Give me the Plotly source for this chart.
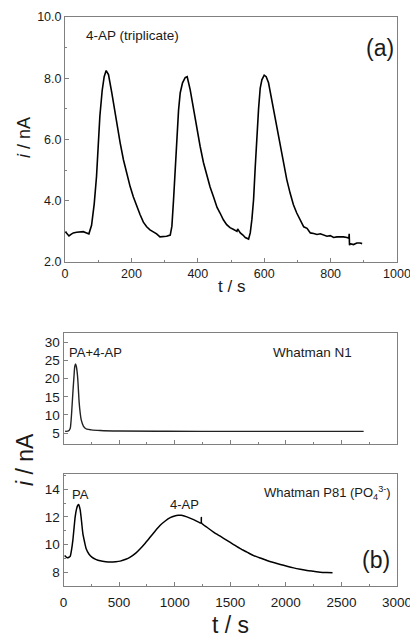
import plotly.graph_objects as go

# Panel (a): 4-AP triplicate
t_a = [0, 5, 12, 18, 25, 35, 45, 55, 65, 72, 80, 88, 95, 105, 112, 118, 124, 131, 141, 148, 156, 166, 176, 186, 196,
       206, 216, 226, 236, 246, 256, 266, 276, 286, 296, 306, 317, 322, 327, 332, 337, 342, 347, 354, 362, 368, 377,
       387, 397, 407, 417, 427, 437, 447, 455, 458, 467, 477, 487, 497, 508, 518, 520, 528, 536, 543, 553, 558, 563,
       568, 573, 578, 583, 588, 593, 600, 606, 613, 620, 628, 638, 648, 658, 668, 678, 688, 698, 709, 719, 729, 739,
       749, 759, 769, 779, 789, 799, 809, 819, 829, 839, 849, 855, 856, 857, 859, 869, 879, 889, 895]
i_a = [3.0, 2.95, 2.85, 2.9, 2.95, 2.97, 2.98, 2.99, 2.95, 2.92, 3.2, 3.9, 4.8, 6.76, 7.6, 8.05, 8.25, 8.12, 7.52, 7.05,
       6.43, 5.9, 5.34, 4.88, 4.47, 4.12, 3.82, 3.55, 3.3, 3.15, 3.05, 2.98, 2.92, 2.82, 2.83, 2.84, 2.88, 3.17, 4.04,
       5.1, 6.2, 6.95, 7.52, 7.85, 8.02, 8.05, 7.63, 6.97, 6.35, 5.78, 5.25, 4.8, 4.45, 4.14, 3.88, 3.78, 3.6, 3.38,
       3.22, 3.12, 3.06, 3.0, 3.08, 2.95, 2.88, 2.8, 2.75, 2.95, 3.4, 4.04, 5.1, 6.2, 7.0, 7.68, 7.95, 8.1, 8.05, 7.85,
       7.45, 6.97, 6.35, 5.78, 5.2, 4.69, 4.25, 3.87, 3.6, 3.38, 3.15, 3.1, 2.95, 2.93, 2.9, 2.92, 2.87, 2.84, 2.86,
       2.8, 2.82, 2.83, 2.82, 2.8, 2.78, 2.92, 2.55, 2.6, 2.57, 2.62, 2.62, 2.6]

# Panel (b), top: Whatman N1
t_b1 = [15, 45, 60, 66, 75, 84, 94, 102, 108, 116, 126, 134, 141, 150, 159, 170, 180, 195, 210, 250, 330, 500, 930,
        1500, 2000, 2700]
i_b1 = [5.5, 5.6, 6.3, 7.7, 11.5, 16.0, 20.5, 23.5, 24.1, 23.3, 20.8, 17.0, 13.4, 10.6, 8.7, 7.6, 6.85, 6.35, 6.1,
        5.9, 5.74, 5.6, 5.5, 5.48, 5.47, 5.47]

# Panel (b), bottom: Whatman P81
t_b2 = [10, 30, 50, 60, 72, 84, 95, 105, 118, 129, 137, 150, 162, 174, 189, 204, 230, 255, 290, 330, 380, 420, 470,
        510, 560, 600, 650, 690, 735, 780, 825, 870, 915, 960, 1000, 1035, 1060, 1110, 1170, 1230, 1238, 1240, 1242,
        1290, 1350, 1410, 1470, 1530, 1590, 1650, 1710, 1770, 1830, 1890, 1950, 2010, 2070, 2130, 2190, 2250, 2310,
        2370, 2420]
i_b2 = [9.2, 9.05, 9.08, 9.14, 9.6, 10.3, 11.2, 12.0, 12.6, 12.84, 12.9, 12.5, 11.7, 10.8, 10.2, 9.7, 9.3, 9.09, 8.93,
        8.82, 8.76, 8.74, 8.76, 8.8, 8.93, 9.09, 9.38, 9.7, 10.1, 10.54, 10.98, 11.39, 11.7, 11.94, 12.06, 12.11, 12.12,
        12.0, 11.8, 11.56, 11.55, 11.95, 11.55, 11.25, 10.9, 10.6, 10.3, 10.0, 9.7, 9.45, 9.2, 9.02, 8.85, 8.7, 8.56,
        8.43, 8.31, 8.21, 8.12, 8.06, 8.0, 7.97, 7.95]

FONT = "Liberation Sans, Arial, sans-serif"
TXT = "#1a1a1a"
AXC = "#808080"

fig = go.Figure()
fig.add_trace(go.Scatter(x=t_a, y=i_a, mode="lines", line=dict(color="black", width=1.6), xaxis="x", yaxis="y",
                         showlegend=False, hoverinfo="skip"))
fig.add_trace(go.Scatter(x=t_b1, y=i_b1, mode="lines", line=dict(color="#222", width=1.4, shape="spline"),
                         xaxis="x2", yaxis="y2", showlegend=False, hoverinfo="skip"))
fig.add_trace(go.Scatter(x=t_b2, y=i_b2, mode="lines", line=dict(color="black", width=1.5, shape="spline", smoothing=0.6),
                         xaxis="x3", yaxis="y3", showlegend=False, hoverinfo="skip"))

W, H = 410, 637
def px(x): return x / W
def py(y): return 1 - y / H

def axc(size):
    return dict(showline=True, linecolor=AXC, linewidth=1, mirror=True, ticks="inside", tickcolor=AXC,
                ticklen=4, showgrid=False, zeroline=False, ticklabeloverflow="allow", automargin=False,
                tickfont=dict(family=FONT, size=size, color=TXT))

fig.update_layout(
    width=W, height=H, margin=dict(l=0, r=0, t=0, b=0, autoexpand=False), paper_bgcolor="white", plot_bgcolor="white",
    xaxis=dict(domain=[px(65), px(397)], range=[0, 1000], tickvals=[0, 200, 400, 600, 800, 1000],
               minor=dict(dtick=100, ticks="inside", ticklen=2, tickcolor=AXC), anchor="y", **axc(12.5)),
    yaxis=dict(domain=[py(262), py(17)], range=[2, 10], tickvals=[2, 4, 6, 8, 10], tickformat=".1f",
               minor=dict(dtick=1, ticks="inside", ticklen=2, tickcolor=AXC), anchor="x", **axc(12.5)),
    xaxis2=dict(domain=[px(63.5), px(397)], range=[0, 3000], dtick=500, showticklabels=False,
                minor=dict(dtick=250, ticks="inside", ticklen=2, tickcolor=AXC), anchor="y2", **axc(13.5)),
    yaxis2=dict(domain=[py(444), py(333)], range=[2, 32.6], tickvals=[5, 10, 15, 20, 25, 30],
                anchor="x2", **axc(13.5)),
    xaxis3=dict(domain=[px(63.5), px(397)], range=[0, 3000], tickvals=[0, 500, 1000, 1500, 2000, 2500, 3000],
                minor=dict(dtick=250, ticks="inside", ticklen=2, tickcolor=AXC), anchor="y3",
                ticklabelstandoff=4, **axc(13.5)),
    yaxis3=dict(domain=[py(586), py(474)], range=[7, 15.1], tickvals=[8, 10, 12, 14],
                minor=dict(dtick=1, ticks="inside", ticklen=2, tickcolor=AXC), anchor="x3", **axc(13.5)),
)

def ann(text, x, y, size, xanchor="center", angle=0):
    fig.add_annotation(text=text, x=px(x), y=py(y), xref="paper", yref="paper", showarrow=False,
                       xanchor=xanchor, yanchor="middle", textangle=angle,
                       font=dict(family=FONT, size=size, color=TXT))

ann("4-AP (triplicate)", 84, 35, 13.5, "left")
ann("(a)", 380, 48, 23, "center")
ann("t / s", 232, 287, 17)
ann("<i>i</i> / nA", 24, 138, 18, angle=-90)

ann("PA+4-AP", 67, 352, 13, "left")
ann("Whatman N1", 354, 352, 13.5, "right")
ann("PA", 70, 494, 13, "left")
ann("4-AP", 184, 504, 13, "center")
ann("Whatman P81 (PO<sub>4</sub><sup>3-</sup>)", 393, 493, 13, "right")
ann("(b)", 376, 560, 23, "center")
ann("t / s", 230, 625, 23)
ann("<i>i</i> / nA", 25, 460, 23, angle=-90)

fig.write_html("out.html")
